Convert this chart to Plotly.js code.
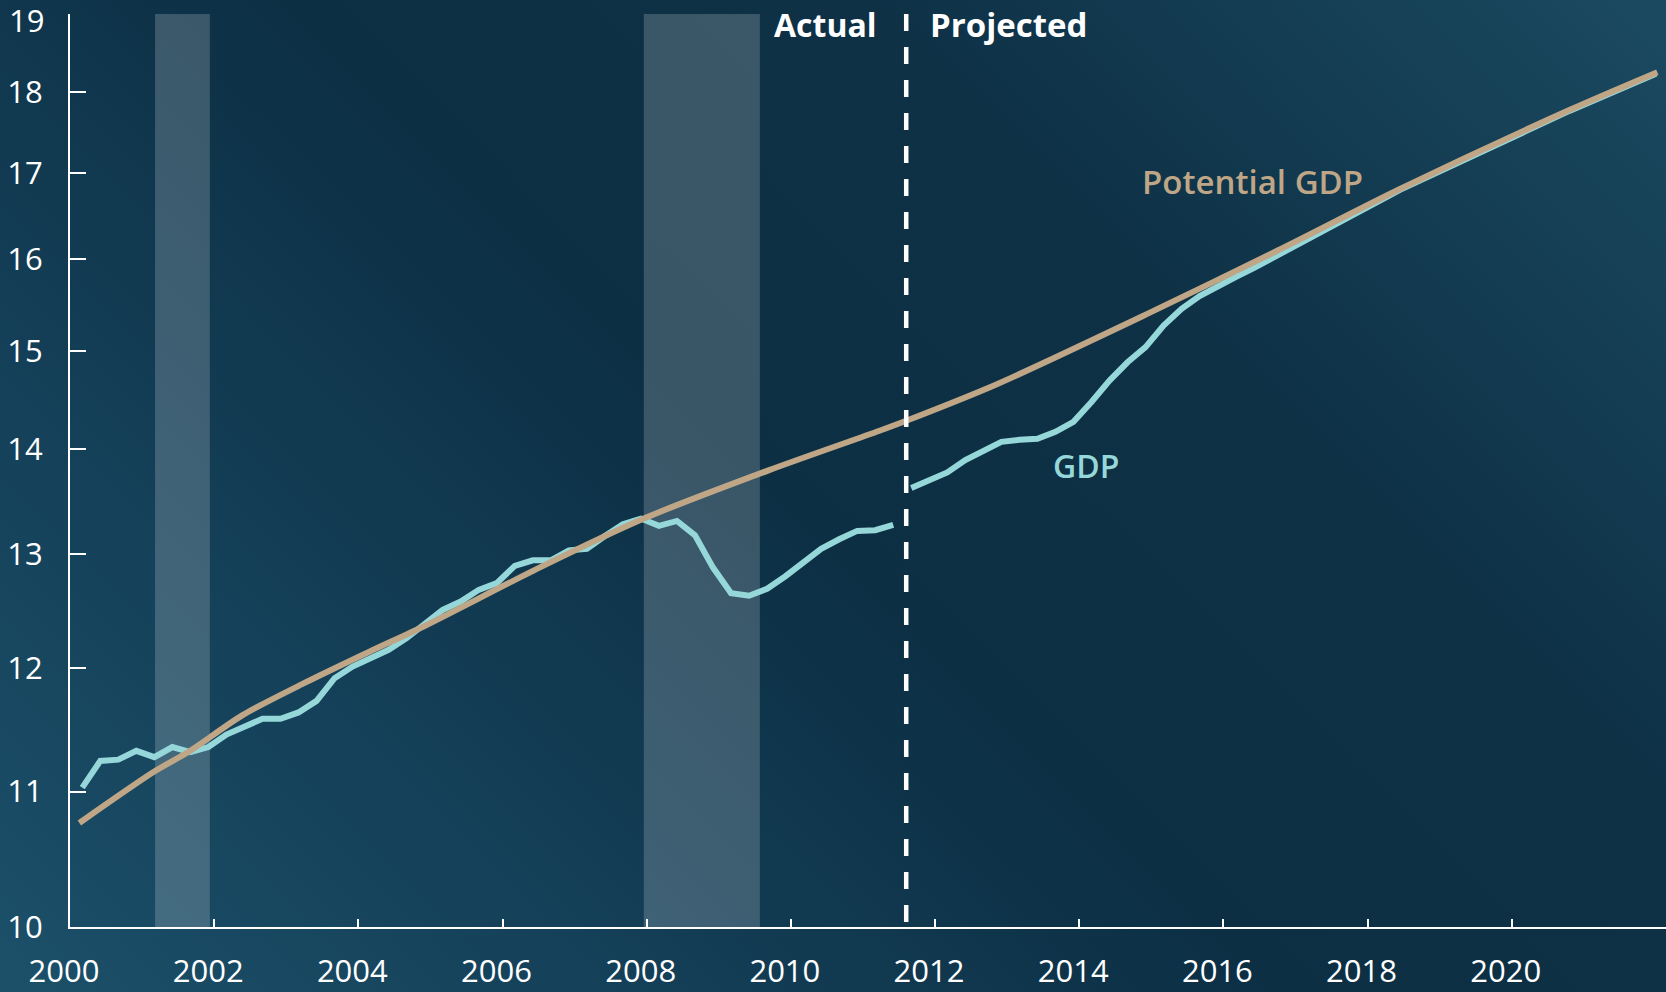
<!DOCTYPE html>
<html>
<head>
<meta charset="utf-8">
<script src="https://cdn.plot.ly/plotly-3.0.1.min.js"></script>
<style>
  html, body { margin: 0; padding: 0; overflow: hidden; }
  body {
    width: 1666px; height: 992px;
    background: linear-gradient(45deg, #1c5069 0%, #15415a 22%, #0c2f44 48%, #0e3146 70%, #1b4a61 100%);
  }
  #chart { width: 1666px; height: 992px; }
</style>
</head>
<body>
<div id="chart"></div>
<script>
// ---- Data (trillions of dollars) ----
// Actual GDP, quarterly 2000Q1 .. 2011Q2
const gdpActual = [
  11.03, 11.24, 11.25, 11.32,
  11.27, 11.35, 11.31, 11.35,
  11.45, 11.515, 11.578, 11.578,
  11.63, 11.725, 11.914, 12.012,
  12.083, 12.154, 12.254, 12.38,
  12.50, 12.574, 12.678, 12.738,
  12.893, 12.944, 12.944, 13.035,
  13.05, 13.168, 13.277, 13.33,
  13.262, 13.308, 13.174, 12.878,
  12.648, 12.625, 12.688, 12.798,
  12.922, 13.05, 13.137, 13.215,
  13.221, 13.271
];
// Projected GDP, quarterly 2011Q3 .. 2016Q4
const gdpProjected = [
  13.62, 13.70,
  13.77, 13.89, 13.98, 14.07,
  14.09, 14.10, 14.17, 14.27,
  14.47, 14.69, 14.88, 15.04,
  15.27, 15.45, 15.59, 15.70,
  15.80, 15.90, 16.01, 16.12
];
// Projected GDP after it rejoins potential
const gdpTailYears  = [2018.45, 2020.80, 2022.00];
const gdpTailValues = [16.80, 17.76, 18.23];

// Potential GDP
const potentialYears  = [2000.13, 2001.18, 2001.64, 2002.40, 2003.24, 2004.16, 2004.92, 2006.52, 2007.96, 2009.69, 2011.23, 2011.60, 2012.85, 2014.93, 2016.76, 2018.45, 2020.80, 2022.02];
const potentialValues = [10.76, 11.16, 11.31, 11.61, 11.87, 12.14, 12.36, 12.88, 13.33, 13.79, 14.18, 14.28, 14.65, 15.39, 16.10, 16.81, 17.77, 18.25];

// Recessions and projection start
const recessionStart = [2001.18, 2007.96];
const recessionEnd   = [2001.94, 2009.57];
const projectionStart = 2011.60;

// Axis ticks
const yTickValues = [10, 11, 12, 13, 14, 15, 16, 17, 18, 19];
const yTickLabels = ['10', '11', '12', '13', '14', '15', '16', '17', '18', '19'];
const xTickValues = [2000, 2002, 2004, 2006, 2008, 2010, 2012, 2014, 2016, 2018, 2020];

// ---- Helpers ----
function quarterToYear(year, q) { return year + (q - 1) / 4 + 0.17; }
const actualX = gdpActual.map((_, i) => quarterToYear(2000 + Math.floor(i / 4), (i % 4) + 1));
const projX = gdpProjected.map((_, i) => {
  const k = i + 46; // 2011Q3 is quarter index 46 from 2000Q1
  return quarterToYear(2000 + Math.floor(k / 4), (k % 4) + 1);
});

const CYAN = '#96d7da';
const TAN = '#bfa686';
const FONT = 'Open Sans, Noto Sans, sans-serif';

const traces = [
  { x: actualX, y: gdpActual, type: 'scatter', mode: 'lines',
    line: { color: CYAN, width: 6 }, hoverinfo: 'skip' },
  { x: projX.concat(gdpTailYears), y: gdpProjected.concat(gdpTailValues), type: 'scatter', mode: 'lines',
    line: { color: CYAN, width: 6 }, hoverinfo: 'skip' },
  { x: potentialYears, y: potentialValues, type: 'scatter', mode: 'lines',
    line: { color: TAN, width: 6, shape: 'spline', smoothing: 0.8 }, hoverinfo: 'skip' }
];

const shapes = recessionStart.map((s, i) => ({
  type: 'rect', xref: 'x', yref: 'paper', x0: s, x1: recessionEnd[i], y0: 0, y1: 1,
  fillcolor: 'rgba(255,255,255,0.19)', line: { width: 0 }, layer: 'below'
}));
shapes.push({
  type: 'line', xref: 'x', yref: 'paper', x0: projectionStart, x1: projectionStart, y0: 1, y1: 0,
  line: { color: '#ffffff', width: 4.5, dash: '17px,16px' }, layer: 'above'
});

// The top tick label sits slightly below its tick so it stays inside the picture
const topLabel = yTickLabels[yTickLabels.length - 1];
const axisTickText = yTickLabels.map((t, i) => i === yTickLabels.length - 1 ? '' : t);

const layout = {
  width: 1666, height: 992,
  margin: { l: 70, r: 0, t: 14, b: 65 },
  paper_bgcolor: 'rgba(0,0,0,0)',
  plot_bgcolor: 'rgba(0,0,0,0)',
  showlegend: false,
  font: { family: FONT, color: '#ffffff', size: 31 },
  xaxis: {
    range: [2000, 2022.14],
    tickvals: xTickValues,
    ticktext: xTickValues.map(String),
    ticks: 'inside', ticklen: 8, tickwidth: 2, tickcolor: '#ffffff',
    showline: true, linecolor: '#ffffff', linewidth: 2,
    showgrid: false, zeroline: false,
    tickfont: { family: FONT, size: 31, color: '#ffffff' },
    ticklabelstandoff: 16,
    ticklabelshift: -6,
    ticklabeloverflow: 'allow'
  },
  yaxis: {
    type: 'log',
    range: [1, Math.log10(19) + 0.0003],
    tickvals: yTickValues,
    ticktext: axisTickText,
    ticks: 'inside', ticklen: 16, tickwidth: 2, tickcolor: '#ffffff',
    showline: true, linecolor: '#ffffff', linewidth: 2,
    showgrid: false, zeroline: false,
    tickfont: { family: FONT, size: 31, color: '#ffffff' },
    ticklabelstandoff: 19,
    ticklabeloverflow: 'allow'
  },
  shapes: shapes,
  annotations: [
    { text: topLabel, xref: 'paper', yref: 'paper', x: 0, y: 0.9935, xanchor: 'right', yanchor: 'middle',
      xshift: -24, showarrow: false, font: { family: FONT, size: 31, color: '#ffffff' } },
    { text: 'Actual', xref: 'x', yref: 'paper', x: projectionStart, y: 0.988, xanchor: 'right', yanchor: 'middle',
      xshift: -27, showarrow: false, font: { family: FONT, size: 32, color: '#ffffff', weight: 700 } },
    { text: 'Projected', xref: 'x', yref: 'paper', x: projectionStart, y: 0.988, xanchor: 'left', yanchor: 'middle',
      xshift: 22, showarrow: false, font: { family: FONT, size: 33, color: '#ffffff', weight: 700 } },
    { text: 'Potential GDP', xref: 'paper', yref: 'paper', x: 0.7412, y: 0.817, xanchor: 'center', yanchor: 'middle',
      showarrow: false, font: { family: FONT, size: 33, color: TAN, weight: 600 } },
    { text: 'GDP', xref: 'paper', yref: 'paper', x: 0.6363, y: 0.506, xanchor: 'center', yanchor: 'middle',
      showarrow: false, font: { family: FONT, size: 32, color: CYAN, weight: 600 } }
  ]
};

Plotly.newPlot('chart', traces, layout, { staticPlot: true, displayModeBar: false });
</script>
</body>
</html>
